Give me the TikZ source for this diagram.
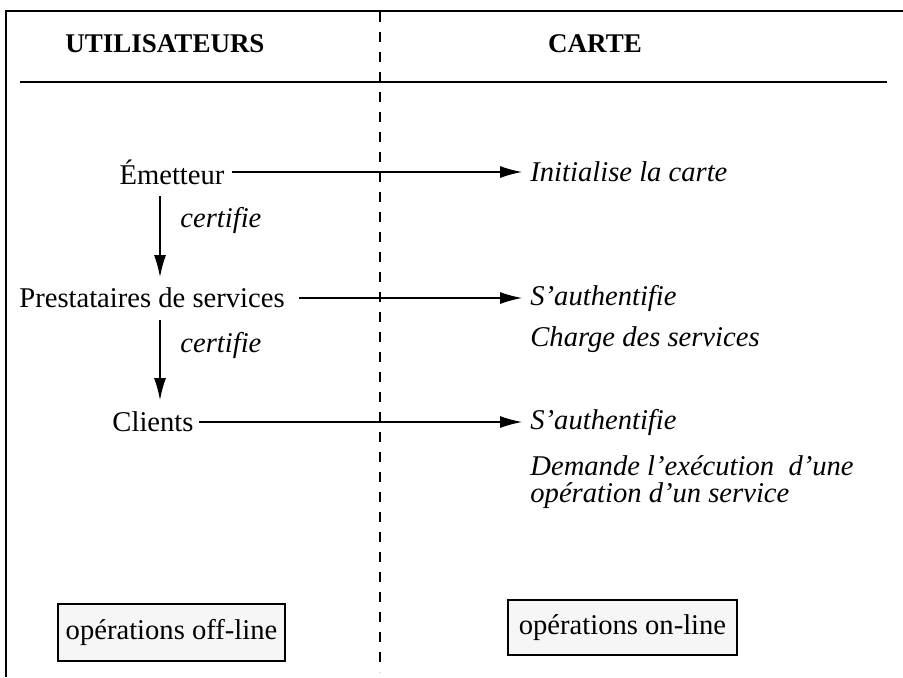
\documentclass[tikz,border=0pt]{standalone}
\usepackage{fontspec}
\setmainfont{Liberation Serif}
\usetikzlibrary{arrows.meta}
\begin{document}
\begin{tikzpicture}[x=0.5pt,y=-0.5pt,
  txt/.style={font=\fontsize{14.3pt}{17pt}\selectfont, inner sep=0pt},
  act/.style={font=\fontsize{14.3pt}{17pt}\selectfont\itshape, inner sep=0pt, anchor=west},
  head/.style={font=\fontsize{13.5pt}{16pt}\selectfont\bfseries, inner sep=0pt},
  opbox/.style={draw, line width=1pt, fill=gray!7, font=\fontsize{14.3pt}{17pt}\selectfont, inner sep=0pt},
  flow/.style={line width=0.6pt, -{Latex[length=11pt,width=6pt]}},
  frame/.style={line width=0.8pt}]
\useasboundingbox (0,0) rectangle (903,677);
% outer frame (top and left only) and header rule
\draw[frame] (6,677) -- (6,11) -- (903,11);
\draw[frame] (20,82) -- (887,82);
% dashed separator between the two columns
\coordinate (septop) at (380,12);
\coordinate (sepbot) at (380,672);
\draw[line width=0.6pt, dash pattern=on 5pt off 5pt] (septop) -- (sepbot);
% column headers
\node[head] (hu) at (165,44) {UTILISATEURS};
\node[head] (hc) at (595,44) {CARTE};
% users
\node[txt] (em) at (172,172) {Émetteur};
\node[txt] (pr) at (152,298) {Prestataires de services};
\node[txt] (cl) at (153,422) {Clients};
% card actions
\node[act] (a1) at (530,172) {Initialise la carte};
\node[act] (a2) at (530,298) {S'authentifie};
\node[act] (a3) at (530,340) {Charge des services};
\node[act] (a4) at (530,422) {S'authentifie};
\node[act, align=left, anchor=north west, font=\fontsize{14.3pt}{13.5pt}\selectfont\itshape] (a5) at (530,455) {Demande l'exécution\ \ d'une\\opération d'un service};
% horizontal arrows
\draw[flow] (em.east) ++(7,0) coordinate (e1) -- (a1.west -| 522,0);
\draw[flow] (pr.east) ++(14,0) -- (a2.west -| 522,0);
\draw[flow] (cl.east) ++(5,0) -- (a4.west -| 522,0);
% certification arrows
\coordinate (c1s) at (160,196);
\coordinate (c2s) at (160,320);
\draw[flow] (c1s) -- (160,277);
\draw[flow] (c2s) -- (160,400);
\node[act] (l1) at (180,220) {certifie};
\node[act] (l2) at (180,345) {certifie};
% mode boxes
\node[opbox, minimum width=113.5pt, minimum height=28.5pt] (off) at (171.5,632) {opérations off-line};
\node[opbox, minimum width=114.5pt, minimum height=27.5pt] (on) at (622.5,627.5) {opérations on-line};
\end{tikzpicture}
\end{document}
